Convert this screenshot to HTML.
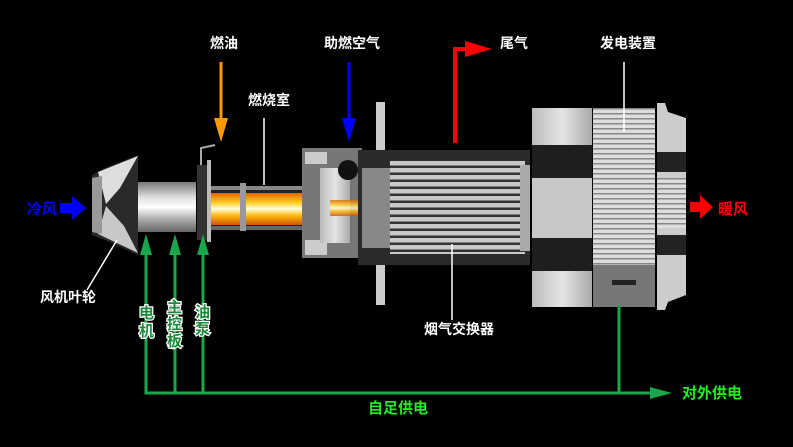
<!DOCTYPE html>
<html><head><meta charset="utf-8"><style>
html,body{margin:0;padding:0;background:#000;width:793px;height:447px;overflow:hidden}
svg text{font-family:"Liberation Sans","Noto Sans CJK SC",sans-serif;font-weight:bold}
</style></head><body>
<svg width="793" height="447" viewBox="0 0 793 447" xmlns="http://www.w3.org/2000/svg">
<defs>
<linearGradient id="sil" x1="0" y1="0" x2="0" y2="1">
<stop offset="0" stop-color="#777"/><stop offset="0.3" stop-color="#ddd"/><stop offset="0.5" stop-color="#fff"/><stop offset="0.75" stop-color="#aaa"/><stop offset="1" stop-color="#666"/></linearGradient>
<linearGradient id="flame" x1="0" y1="0" x2="0" y2="1">
<stop offset="0" stop-color="#d60"/><stop offset="0.3" stop-color="#fc2"/><stop offset="0.5" stop-color="#ffd"/><stop offset="0.7" stop-color="#fb1"/><stop offset="1" stop-color="#c50"/></linearGradient>
<linearGradient id="gray" x1="0" y1="0" x2="1" y2="0">
<stop offset="0" stop-color="#bbb"/><stop offset="0.5" stop-color="#e5e5e5"/><stop offset="1" stop-color="#aaa"/></linearGradient>
<pattern id="fins" width="6" height="7" patternUnits="userSpaceOnUse"><rect width="6" height="7" fill="#333"/><rect width="6" height="4.5" fill="#c8c8c8"/></pattern>
<pattern id="stripes" width="4" height="5" patternUnits="userSpaceOnUse"><rect width="4" height="5" fill="#ddd"/><rect y="3" width="4" height="1.5" fill="#888"/></pattern>
</defs>

<!-- fan impeller -->
<path d="M92 175 L105 168 L138 155 L138 255 L105 240 L92 235 Z" fill="#2a2a2a"/>
<path d="M98 172 L138 156 L120 188 L106 204 Z" fill="#ddd"/>
<path d="M98 234 L106 206 L124 226 L138 253 Z" fill="#c8c8c8"/>
<path d="M92 178 L102 176 L102 234 L92 232 Z" fill="#999"/>
<!-- motor tube -->
<rect x="138" y="182" width="58" height="50" fill="url(#sil)"/>
<!-- flange -->
<rect x="197" y="165" width="12" height="75" fill="#333"/>
<rect x="207" y="160" width="4" height="82" fill="#bbb"/>
<path d="M201 165 L201 148 L215 145" stroke="#aaa" stroke-width="2" fill="none"/>
<!-- combustion tube -->
<rect x="211" y="186" width="95" height="44" fill="#222"/>
<rect x="211" y="193" width="95" height="32" fill="url(#flame)"/>
<rect x="211" y="186" width="95" height="4" fill="#888"/>
<rect x="211" y="226" width="95" height="4" fill="#666"/>
<rect x="240" y="183" width="6" height="48" fill="#999"/>
<!-- housing -->
<rect x="302" y="148" width="60" height="110" fill="#777"/>
<rect x="305" y="152" width="22" height="12" fill="#ccc"/>
<rect x="305" y="240" width="22" height="15" fill="#ccc"/>
<rect x="320" y="168" width="30" height="75" fill="url(#gray)"/>
<circle cx="348" cy="170" r="10" fill="#111"/>
<rect x="330" y="200" width="80" height="16" fill="url(#flame)" opacity="0.8"/>
<!-- plate -->
<rect x="376" y="102" width="9" height="50" fill="#ccc"/>
<rect x="376" y="265" width="9" height="40" fill="#ccc"/>
<!-- exchanger body -->
<rect x="358" y="150" width="172" height="115" fill="#2a2a2a"/>
<rect x="390" y="160" width="135" height="94" fill="url(#fins)"/>
<rect x="362" y="168" width="28" height="80" fill="#888"/>
<rect x="520" y="165" width="10" height="86" fill="#aaa"/>
<!-- generator block 1 -->
<rect x="532" y="108" width="60" height="37" fill="url(#gray)"/>
<rect x="532" y="145" width="60" height="33" fill="#1e1e1e"/>
<rect x="532" y="178" width="60" height="60" fill="#c8c8c8"/>
<rect x="532" y="238" width="60" height="33" fill="#1e1e1e"/>
<rect x="532" y="271" width="60" height="36" fill="url(#gray)"/>
<!-- block 2 -->
<rect x="593" y="108" width="62" height="157" fill="url(#stripes)"/>
<rect x="593" y="265" width="62" height="42" fill="#777"/>
<rect x="612" y="280" width="24" height="5" fill="#222"/>
<!-- block 3 -->
<path d="M657 103 L665 103 L668 112 L686 118 L686 295 L668 302 L665 310 L657 310 Z" fill="#ccc"/>
<rect x="657" y="152" width="29" height="20" fill="#222"/>
<rect x="657" y="235" width="29" height="20" fill="#222"/>
<rect x="657" y="178" width="29" height="50" fill="url(#stripes)"/>

<!-- leader lines -->
<line x1="264" y1="118" x2="264" y2="185" stroke="#fff" stroke-width="1.5"/>
<line x1="624" y1="62" x2="624" y2="132" stroke="#fff" stroke-width="1.5"/>
<line x1="452" y1="244" x2="452" y2="320" stroke="#fff" stroke-width="1.5"/>
<line x1="87" y1="290" x2="117" y2="240" stroke="#fff" stroke-width="1.5"/>

<!-- input arrows -->
<line x1="221" y1="62" x2="221" y2="125" stroke="#f90" stroke-width="3"/>
<polygon points="214,118 228,118 221,142" fill="#f90"/>
<line x1="349" y1="62" x2="349" y2="125" stroke="#00f" stroke-width="3"/>
<polygon points="342,118 356,118 349,142" fill="#00f"/>
<path d="M455 143 L455 49 L470 49" stroke="#f00" stroke-width="4" fill="none"/>
<polygon points="465,41 492,49 465,57" fill="#f00"/>
<polygon points="60,203 72,203 72,196 86,208 72,220 72,213 60,213" fill="#00f"/>
<polygon points="690,202 700,202 700,195 713,207 700,219 700,212 690,212" fill="#f00"/>

<!-- green lines -->
<g stroke="#1aa64a" stroke-width="3" fill="none">
<path d="M146 244 L146 393 L660 393"/>
<line x1="175" y1="244" x2="175" y2="393"/>
<line x1="203" y1="244" x2="203" y2="393"/>
<line x1="619" y1="305" x2="619" y2="393"/>
</g>
<g fill="#1aa64a">
<polygon points="140,255 146,234 152,255"/>
<polygon points="169,255 175,234 181,255"/>
<polygon points="197,255 203,234 209,255"/>
<polygon points="650,387 672,393 650,399"/>
</g>

<!-- labels -->
<g fill="#fff" font-size="14">
<text x="210" y="48">燃油</text>
<text x="324" y="48">助燃空气</text>
<text x="500" y="48">尾气</text>
<text x="600" y="48">发电装置</text>
<text x="248" y="105">燃烧室</text>
<text x="40" y="302">风机叶轮</text>
<text x="424" y="334">烟气交换器</text>
</g>
<text x="27" y="214" fill="#00f" font-size="15">冷风</text>
<text x="718" y="214" fill="#f00" font-size="15">暖风</text>
<g fill="#1a8a3a" stroke="#fff" stroke-width="2.5" paint-order="stroke" font-size="15">
<text x="139" y="318">电</text><text x="139" y="336">机</text>
<text x="167" y="312">主</text><text x="167" y="329">控</text><text x="167" y="346">板</text>
<text x="195" y="317">油</text><text x="195" y="334">泵</text>
</g>
<text x="368" y="413" fill="#2e2" font-size="15">自足供电</text>
<text x="682" y="398" fill="#2e2" font-size="15">对外供电</text>
</svg>
</body></html>
